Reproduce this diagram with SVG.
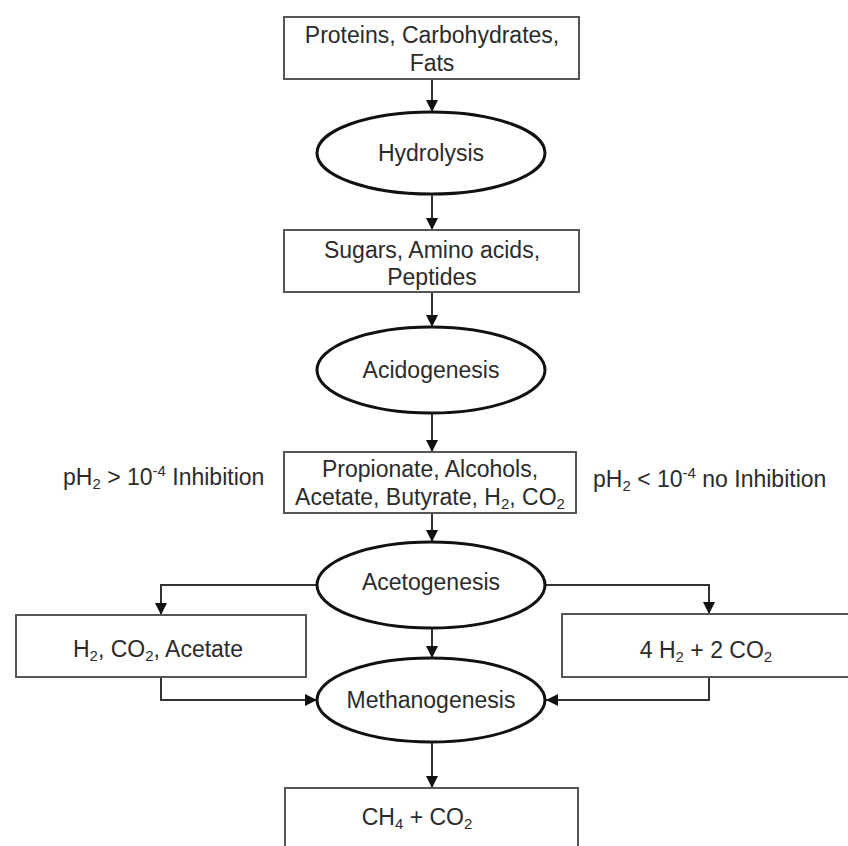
<svg xmlns="http://www.w3.org/2000/svg" width="848" height="846" viewBox="0 0 848 846">
<style>
text{font-family:"Liberation Sans",Arial,sans-serif;font-size:23px;fill:#2b2b2b;text-anchor:middle}
.l{text-anchor:start}
.box{fill:#fff;stroke:#555;stroke-width:2}
.ell{fill:#fff;stroke:#111;stroke-width:3}
.con{fill:none;stroke:#333;stroke-width:2}
.sub{font-size:15px}
</style>
<defs>
<marker id="ah" viewBox="0 0 10 10" refX="10" refY="5" markerWidth="12" markerHeight="12" markerUnits="userSpaceOnUse" orient="auto">
<path d="M0,0 L10,5 L0,10 Z" fill="#111"/>
</marker>
</defs>
<rect width="848" height="846" fill="#fff"/>
<g id="connectors">
<path class="con" d="M432,79 V112" marker-end="url(#ah)"/>
<path class="con" d="M432,195 V230" marker-end="url(#ah)"/>
<path class="con" d="M432,292 V327" marker-end="url(#ah)"/>
<path class="con" d="M432,413 V452" marker-end="url(#ah)"/>
<path class="con" d="M432,513 V542" marker-end="url(#ah)"/>
<path class="con" d="M317,585 H161 V615" marker-end="url(#ah)"/>
<path class="con" d="M546,585 H709 V614" marker-end="url(#ah)"/>
<path class="con" d="M432,627 V658" marker-end="url(#ah)"/>
<path class="con" d="M161,677 V700 H317" marker-end="url(#ah)"/>
<path class="con" d="M709,677 V700 H546" marker-end="url(#ah)"/>
<path class="con" d="M432,742 V788" marker-end="url(#ah)"/>
</g>
<g id="n1">
<rect class="box" x="284" y="17" width="295" height="62"/>
<text x="432" y="43">Proteins, Carbohydrates,</text>
<text x="432" y="71">Fats</text>
</g>
<g id="n2">
<ellipse class="ell" cx="431" cy="153" rx="114" ry="41"/>
<text x="431" y="161">Hydrolysis</text>
</g>
<g id="n3">
<rect class="box" x="284" y="230" width="295" height="62"/>
<text x="432" y="258">Sugars, Amino acids,</text>
<text x="432" y="285">Peptides</text>
</g>
<g id="n4">
<ellipse class="ell" cx="431" cy="370" rx="114" ry="43"/>
<text x="431" y="378">Acidogenesis</text>
</g>
<g id="n5">
<rect class="box" x="284" y="452" width="292" height="61"/>
<text x="430" y="477">Propionate, Alcohols,</text>
<text x="430" y="505">Acetate, Butyrate, H<tspan class="sub" dy="4">2</tspan><tspan dy="-4">, CO</tspan><tspan class="sub" dy="4">2</tspan></text>
</g>
<g id="label-left">
<text class="l" x="63" y="485">pH<tspan class="sub" dy="4">2</tspan><tspan dy="-4"> &gt; 10</tspan><tspan class="sub" dy="-9">-4</tspan><tspan dy="9"> Inhibition</tspan></text>
</g>
<g id="label-right">
<text class="l" x="593" y="487">pH<tspan class="sub" dy="4">2</tspan><tspan dy="-4"> &lt; 10</tspan><tspan class="sub" dy="-9">-4</tspan><tspan dy="9"> no Inhibition</tspan></text>
</g>
<g id="n6">
<ellipse class="ell" cx="431" cy="585" rx="114" ry="43"/>
<text x="431" y="590">Acetogenesis</text>
</g>
<g id="n7">
<rect class="box" x="16" y="615" width="290" height="62"/>
<text x="158" y="657">H<tspan class="sub" dy="4">2</tspan><tspan dy="-4">, CO</tspan><tspan class="sub" dy="4">2</tspan><tspan dy="-4">, Acetate</tspan></text>
</g>
<g id="n8">
<rect class="box" x="562" y="614" width="300" height="63"/>
<text x="706" y="658">4 H<tspan class="sub" dy="4">2</tspan><tspan dy="-4"> + 2 CO</tspan><tspan class="sub" dy="4">2</tspan></text>
</g>
<g id="n9">
<ellipse class="ell" cx="431" cy="700" rx="114" ry="42"/>
<text x="431" y="708">Methanogenesis</text>
</g>
<g id="n10">
<rect class="box" x="285" y="788" width="293" height="80"/>
<text x="417" y="825">CH<tspan class="sub" dy="4">4</tspan><tspan dy="-4"> + CO</tspan><tspan class="sub" dy="4">2</tspan></text>
</g>
</svg>
